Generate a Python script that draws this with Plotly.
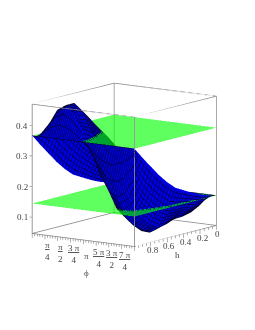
import math
import plotly.graph_objects as go

PI = math.pi
phi_frac = [i / 12 for i in range(13)]
phi = [f * 2 * PI for f in phi_frac]
h = [0.0, 0.1, 0.2, 0.3, 0.4, 0.5, 0.6, 0.7, 0.8, 0.9, 0.95, 1.0]
z_rows = [
    [.145] * 13,
    [.152, .187, .213, .222, .213, .187, .152, .117, .091, .082, .091, .117, .152],
    [.162, .207, .240, .252, .240, .207, .162, .117, .084, .072, .084, .117, .162],
    [.175, .228, .266, .280, .266, .228, .175, .122, .084, .070, .084, .122, .175],
    [.190, .258, .307, .325, .307, .258, .190, .122, .073, .055, .073, .122, .190],
    [.205, .285, .344, .365, .344, .285, .205, .125, .066, .048, .066, .125, .205],
    [.230, .315, .377, .400, .377, .315, .230, .145, .083, .060, .083, .145, .230],
    [.260, .348, .412, .435, .412, .348, .260, .172, .108, .085, .108, .172, .260],
    [.295, .383, .447, .470, .447, .383, .295, .207, .143, .120, .143, .207, .295],
    [.330, .400, .451, .470, .451, .400, .330, .260, .209, .190, .209, .260, .330],
    [.349, .389, .418, .429, .418, .389, .349, .309, .280, .269, .280, .309, .349],
    [.367] * 13,
]
plane_levels = [0.145, 0.367]
x_lim = [0, 2 * PI]
y_lim = [0, 1]
z_lim = [0.047, 0.47]

phi_nums = ["π", "π", "3 π", "π", "5 π", "3 π", "7 π"]
phi_dens = ["4", "2", "4", "", "4", "2", "4"]
x_tickvals = [i * PI / 20 for i in range(41)]
y_tickvals = [i / 20 for i in range(21)]
z_tickvals = [0.1, 0.2, 0.3, 0.4]

FONT = "Liberation Serif"
fig = go.Figure()
fig.add_trace(go.Surface(
    x=phi, y=h, z=z_rows, surfacecolor=[[0] * 13] * 12,
    colorscale=[[0, "#0000e8"], [1, "#0000e8"]], showscale=False, cmin=0, cmax=1,
    lighting=dict(ambient=1, diffuse=0, specular=0, fresnel=0, roughness=1),
    contours=dict(
        x=dict(show=True, start=0, end=2 * PI, size=2 * PI / 60, color="#000020", width=1),
        y=dict(show=True, start=0, end=1, size=1 / 30, color="#000020", width=1),
    ),
    hoverinfo="skip",
))
for lv in plane_levels:
    fig.add_trace(go.Surface(
        x=x_lim, y=y_lim, z=[[lv, lv], [lv, lv]], surfacecolor=[[0, 0], [0, 0]],
        colorscale=[[0, "#00ff00"], [1, "#00ff00"]], showscale=False, cmin=0, cmax=1,
        opacity=0.63, lighting=dict(ambient=1, diffuse=0, specular=0, fresnel=0),
        hoverinfo="skip",
    ))
bx, by, bz = [], [], []
x0, x1 = x_lim; y0, y1 = y_lim; z0, z1 = z_lim
for a, b in [((x0,y0),(x1,y0)), ((x1,y0),(x1,y1)), ((x1,y1),(x0,y1)), ((x0,y1),(x0,y0))]:
    for zz in (z0, z1):
        bx += [a[0], b[0], None]; by += [a[1], b[1], None]; bz += [zz, zz, None]
    bx += [a[0], a[0], None]; by += [a[1], a[1], None]; bz += [z0, z1, None]
fig.add_trace(go.Scatter3d(x=bx, y=by, z=bz, mode="lines",
                           line=dict(color="#8c8c8c", width=1.6), hoverinfo="skip", showlegend=False))

tx, ty, tz = [], [], []
for i, v in enumerate(x_tickvals):
    d = 0.014 if i % 5 == 0 else 0.008
    tx += [v, v, None]; ty += [1, 1, None]; tz += [z0, z0 - d, None]
for i, v in enumerate(y_tickvals):
    d = 0.014 if i % 4 == 0 else 0.008
    tx += [x1, x1, None]; ty += [v, v, None]; tz += [z0, z0 - d, None]
for v in z_tickvals:
    tx += [x0, x0 - 0.17, None]; ty += [1, 1, None]; tz += [v, v, None]
fig.add_trace(go.Scatter3d(x=tx, y=ty, z=tz, mode="lines",
                           line=dict(color="#666666", width=1), hoverinfo="skip", showlegend=False))

ax_common = dict(showbackground=False, showgrid=False, zeroline=False, showline=False,
                 showspikes=False, ticks="", showticklabels=False, title=dict(text=""))
annots = []
TXT = dict(family=FONT, size=9, color="#444")
for i, (n, d) in enumerate(zip(phi_nums, phi_dens)):
    val = (i + 1) * PI / 4
    label = n if not d else f'<span style="text-decoration:underline">{n}</span><br>{d}'
    annots.append(dict(x=val, y=1, z=z0, text=label, showarrow=False, font=TXT, yshift=-16, xshift=3))
annots.append(dict(x=PI, y=1, z=z0, text="ϕ", showarrow=False, font=TXT, yshift=-33, xshift=3))
for val in [0.2, 0.4, 0.6, 0.8]:
    annots.append(dict(x=x1, y=val, z=z0, text="%g" % val, showarrow=False, font=TXT, yshift=-8, xshift=2))
annots.append(dict(x=x1, y=0, z=z0, text="0", showarrow=False, font=TXT, yshift=-9, xshift=1))
annots.append(dict(x=x1, y=0.5, z=z0, text="h", showarrow=False, font=TXT, yshift=-19, xshift=2))
for val in z_tickvals:
    annots.append(dict(x=x0, y=1, z=val, text="%g" % val, showarrow=False, font=TXT, xshift=-10))

cx, cy, cz = 0.0716, 0.0317, -0.0345
fig.update_layout(
    width=255, height=330, margin=dict(l=0, r=0, t=0, b=0), paper_bgcolor="white",
    font=TXT, showlegend=False,
    scene=dict(
        domain=dict(x=[0, 1], y=[0, 1]),
        xaxis=dict(range=[-0.18, x1], **ax_common),
        yaxis=dict(range=[1, 0], **ax_common),
        zaxis=dict(range=[0.032, z1], **ax_common),
        aspectmode="manual", aspectratio=dict(x=0.78, y=0.862, z=0.825),
        camera=dict(projection=dict(type="orthographic"),
                    eye=dict(x=1.134 + cx, y=-1.608 + cy, z=0.362 + cz),
                    up=dict(x=0, y=0, z=1), center=dict(x=cx, y=cy, z=cz)),
        annotations=annots,
    ),
)
fig.write_html("out.html")
